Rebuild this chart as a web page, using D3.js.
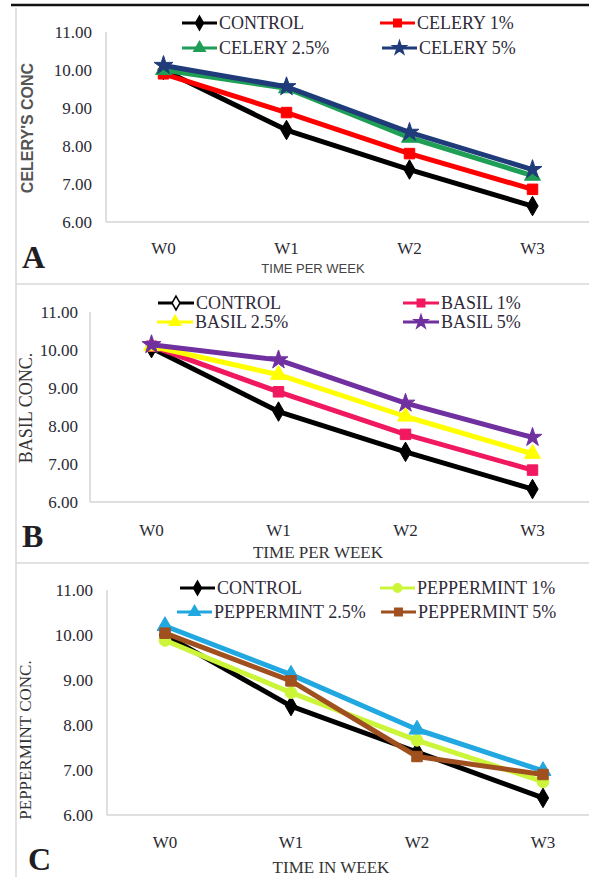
<!DOCTYPE html>
<html><head><meta charset="utf-8">
<script src="https://cdn.jsdelivr.net/npm/d3@7"></script>
<style>body{margin:0;background:#fff}svg{display:block}.serif{font-family:"Liberation Serif","Times New Roman",serif}.sans{font-family:"Liberation Sans",Arial,sans-serif}</style>
</head><body>
<svg id="c" width="589" height="877"></svg>
<script>
// ---- data ----
const weeks = ["W0", "W1", "W2", "W3"];
const yTickValues = [6, 7, 8, 9, 10, 11];

const celerySeries = ["CONTROL", "CELERY 1%", "CELERY 2.5%", "CELERY 5%"];
const celeryControl = [10.0, 8.42, 7.38, 6.42];
const celery1 = [9.9, 8.88, 7.8, 6.86];
const celery25 = [10.0, 9.52, 8.22, 7.22];
const celery5 = [10.12, 9.56, 8.36, 7.38];

const basilSeries = ["CONTROL", "BASIL 1%", "BASIL 2.5%", "BASIL 5%"];
const basilControl = [10.05, 8.38, 7.32, 6.34];
const basil1 = [10.1, 8.9, 7.78, 6.84];
const basil25 = [10.1, 9.35, 8.25, 7.27];
const basil5 = [10.14, 9.74, 8.6, 7.7];

const pepSeries = ["CONTROL", "PEPPERMINT 1%", "PEPPERMINT 2.5%", "PEPPERMINT 5%"];
const pepControl = [10.0, 8.42, 7.4, 6.38];
const pep1 = [9.88, 8.72, 7.66, 6.74];
const pep25 = [10.2, 9.12, 7.9, 6.98];
const pep5 = [10.04, 8.98, 7.3, 6.9];

const panelLetters = ["A", "B", "C"];
const yTitles = ["CELERY'S CONC", "BASIL CONC.", "PEPPERMINT CONC."];
const xTitles = ["TIME PER WEEK", "TIME PER WEEK", "TIME IN WEEK"];

// ---- styles ----
const svg = d3.select("#c");

// frame
svg.append("line").attr("x1", 11).attr("x2", 589).attr("y1", 5).attr("y2", 5)
  .attr("stroke", "#111").attr("stroke-width", 2.5);
svg.append("line").attr("x1", 16).attr("x2", 16).attr("y1", 8).attr("y2", 877)
  .attr("stroke", "#d8d8d8").attr("stroke-width", 1.5);
[284, 563].forEach(y => svg.append("line").attr("x1", 16).attr("x2", 589)
  .attr("y1", y).attr("y2", y).attr("stroke", "#d8d8d8").attr("stroke-width", 1.5));

const panels = [
  {
    series: celerySeries, values: [celeryControl, celery1, celery25, celery5],
    colors: ["#000000", "#ff0000", "#1f9e55", "#1f3b7a"],
    symbols: [d3.symbolDiamond, d3.symbolSquare, d3.symbolTriangle, d3.symbolStar],
    legendFill: ["#000", "#ff0000", "#1f9e55", "#1f3b7a"],
    xr: [102, 594], yr: [222, 32], axisX: 106, tickX: 92, wY: 248,
    xTitle: { x: 313, y: 268, cls: "sans", size: 13, weight: "normal", fill: "#444" },
    yTitle: { x: 33, y: 128, cls: "sans", size: 16, weight: "bold", fill: "#555" },
    letter: { x: 22, y: 268 },
    legend: [[182, 23], [380, 23], [182, 48], [382, 48]], legLen: 35
  },
  {
    series: basilSeries, values: [basilControl, basil1, basil25, basil5],
    colors: ["#000000", "#f0185f", "#ffff00", "#7030a0"],
    symbols: [d3.symbolDiamond, d3.symbolSquare, d3.symbolTriangle, d3.symbolStar],
    legendFill: ["#fff", "#f0185f", "#ffff00", "#7030a0"],
    xr: [88, 596], yr: [502, 312], axisX: 90, tickX: 78, wY: 530,
    xTitle: { x: 318, y: 552, cls: "serif", size: 17, weight: "normal", fill: "#333" },
    yTitle: { x: 32, y: 408, cls: "serif", size: 18, weight: "normal", fill: "#333" },
    letter: { x: 22, y: 547 },
    legend: [[158, 303], [403, 303], [157, 322], [403, 322]], legLen: 36
  },
  {
    series: pepSeries, values: [pepControl, pep1, pep25, pep5],
    colors: ["#000000", "#ccf53a", "#22a8e0", "#a0501e"],
    symbols: [d3.symbolDiamond, d3.symbolCircle, d3.symbolTriangle, d3.symbolSquare],
    legendFill: ["#000", "#ccf53a", "#22a8e0", "#a0501e"],
    xr: [102, 606], yr: [815, 590], axisX: 107, tickX: 93, wY: 842,
    xTitle: { x: 331, y: 867, cls: "serif", size: 17, weight: "normal", fill: "#333" },
    yTitle: { x: 31, y: 740, cls: "serif", size: 17, weight: "normal", fill: "#333" },
    letter: { x: 28, y: 870 },
    legend: [[180, 588], [380, 588], [177, 612], [381, 612]], legLen: 35
  }
];

panels.forEach((p, pi) => {
  const g = svg.append("g");
  const x = d3.scaleBand().domain(weeks).range(p.xr);
  const y = d3.scaleLinear().domain([6, 11]).range(p.yr);
  const cx = d => x(d) + x.bandwidth() / 2;

  // axes lines
  g.append("line").attr("x1", p.axisX).attr("x2", p.axisX).attr("y1", y(11)).attr("y2", y(6))
    .attr("stroke", "#d4d4d4").attr("stroke-width", 1.5);
  g.append("line").attr("x1", p.axisX).attr("x2", 589).attr("y1", y(6)).attr("y2", y(6))
    .attr("stroke", "#d4d4d4").attr("stroke-width", 1.5);

  // y tick labels via d3 axis
  const yAxis = d3.axisLeft(y).tickValues(yTickValues).tickFormat(d3.format(".2f")).tickSize(0).tickPadding(0);
  const ya = g.append("g").attr("transform", `translate(${p.tickX},0)`).call(yAxis);
  ya.attr("font-family", null).attr("font-size", null);
  ya.select(".domain").remove();
  ya.selectAll("text").attr("class", "serif").style("font-size", "17px").attr("fill", "#2a2a33");

  // x tick labels
  const xAxis = d3.axisBottom(x).tickSize(0).tickPadding(0);
  const xa = g.append("g").attr("transform", `translate(0,${p.wY})`).call(xAxis);
  xa.attr("font-family", null).attr("font-size", null);
  xa.select(".domain").remove();
  xa.selectAll("text").attr("class", "serif").style("font-size", "17px").attr("fill", "#2a2a33")
    .attr("dy", "0.35em").attr("y", 0);

  // lines and markers
  p.values.forEach((vals, si) => {
    const line = d3.line().x((d, i) => cx(weeks[i])).y(d => y(d));
    g.append("path").datum(vals).attr("d", line).attr("fill", "none")
      .attr("stroke", p.colors[si]).attr("stroke-width", 5).attr("stroke-linejoin", "round");
    g.selectAll(null).data(vals).enter().append("path")
      .attr("transform", (d, i) => `translate(${cx(weeks[i])},${y(d)})`)
      .attr("d", d3.symbol(p.symbols[si], p.symbols[si] === d3.symbolStar ? 110 : 110))
      .attr("fill", p.colors[si]).attr("stroke", p.colors[si]).attr("stroke-width", 1);
  });

  // legend
  p.series.forEach((name, si) => {
    const [lx, ly] = p.legend[si];
    g.append("line").attr("x1", lx).attr("x2", lx + p.legLen).attr("y1", ly).attr("y2", ly)
      .attr("stroke", p.colors[si]).attr("stroke-width", 3);
    g.append("path").attr("transform", `translate(${lx + p.legLen / 2},${ly})`)
      .attr("d", d3.symbol(p.symbols[si], 55))
      .attr("fill", p.legendFill[si]).attr("stroke", p.colors[si]).attr("stroke-width", 1.5);
    g.append("text").attr("class", "serif").attr("x", lx + p.legLen + 2).attr("y", ly).attr("dy", "0.35em")
      .style("font-size", "18px").attr("fill", "#2f2a38").text(name);
  });

  // axis titles
  const xt = p.xTitle;
  g.append("text").attr("class", xt.cls).attr("x", xt.x).attr("y", xt.y).attr("dy", "0.35em").attr("text-anchor", "middle")
    .style("font-size", xt.size + "px").style("font-weight", xt.weight)
    .attr("fill", xt.fill).text(xTitles[pi]);
  const yt = p.yTitle;
  g.append("text").attr("class", yt.cls).attr("transform", `translate(${yt.x},${yt.y}) rotate(-90)`).attr("text-anchor", "middle")
    .style("font-size", yt.size + "px").style("font-weight", yt.weight)
    .attr("fill", yt.fill).text(yTitles[pi]);

  // panel letter
  g.append("text").attr("class", "serif").attr("x", p.letter.x).attr("y", p.letter.y)
    .style("font-size", "32px").style("font-weight", "bold")
    .attr("fill", "#1e1e24").text(panelLetters[pi]);
});
</script>
</body></html>
